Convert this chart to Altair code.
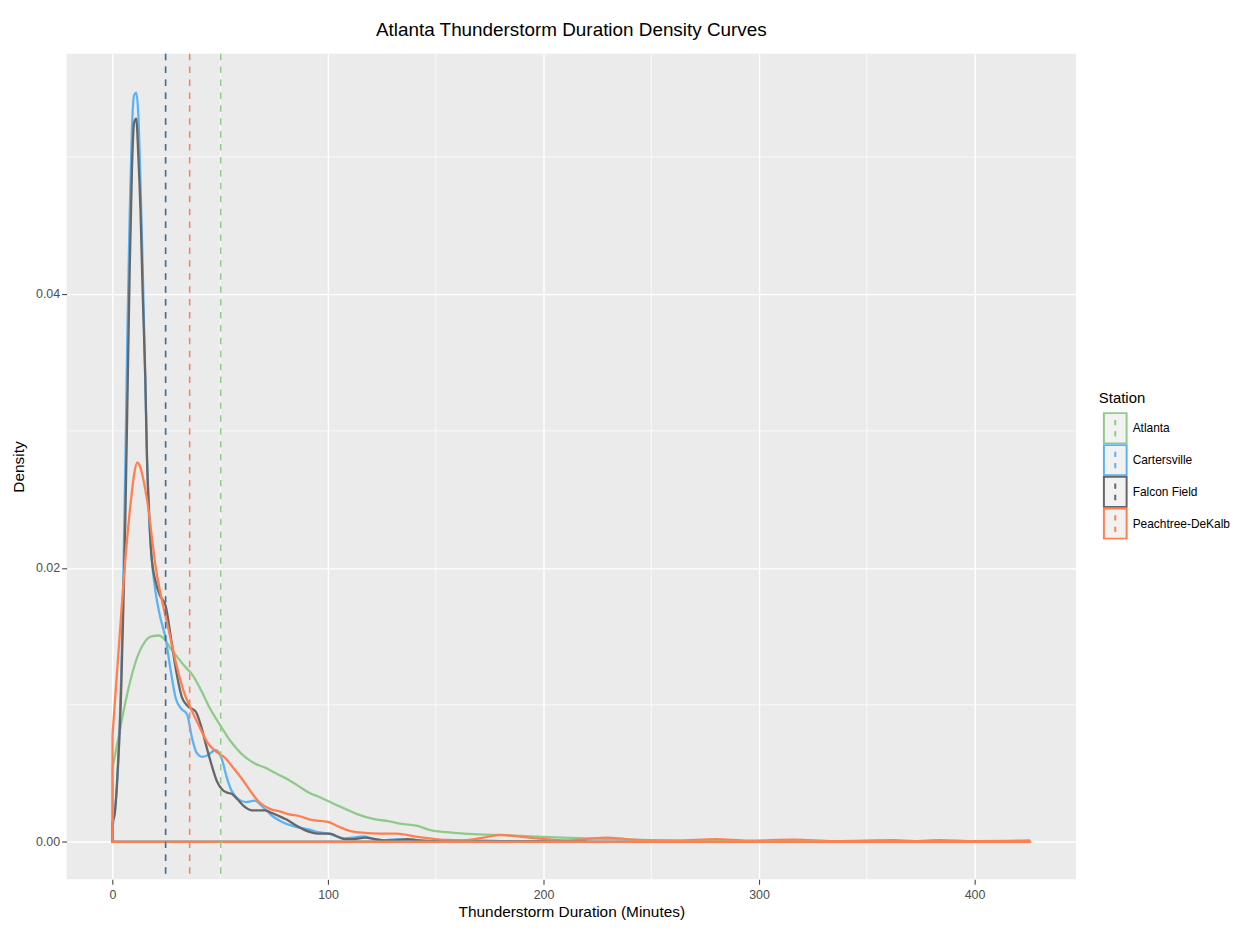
import altair as alt
import pandas as pd

FONT = "Liberation Sans, Arial"

stations = ["Atlanta", "Cartersville", "Falcon Field", "Peachtree-DeKalb"]
colors = ["#8FCB88", "#5BB3F5", "#666666", "#FF7F50"]
medians = [50.2, 24.7, 24.6, 35.8]

atl_x = [0, 3, 6, 9, 12, 15, 18, 21.5, 24, 27, 30, 33, 37, 41, 45, 50.8, 55, 60, 65, 71, 77, 82, 86, 91,
         95.4, 101, 108, 113.8, 121, 128, 134, 141, 147.5, 155, 163, 178, 194, 209, 232, 255, 280, 310, 330]
atl_y = [0.0054, 0.0078, 0.0102, 0.0122, 0.0137, 0.0146, 0.0150, 0.01506, 0.0148, 0.0141, 0.0135, 0.0129,
         0.0122, 0.0111, 0.0098, 0.0083, 0.0073, 0.0064, 0.0058, 0.0054, 0.0049, 0.0045, 0.0041, 0.0036,
         0.0033, 0.0029, 0.0024, 0.0020, 0.00167, 0.0015, 0.0013, 0.00118, 0.00085, 0.0007, 0.0006, 0.0005,
         0.0004, 0.0003, 0.0002, 0.0001, 0.00006, 0.00004, 0.00002]

car_x = [0, 2, 3, 4, 5, 6, 7, 8, 9, 10, 11, 12, 13, 14, 15, 16, 17, 18, 20, 22, 24.7, 27, 29.3, 32, 34.6,
         37, 39, 41.5, 44, 47.8, 50.8, 53, 55.3, 58.5, 62, 66, 70, 74, 78, 84.6, 91, 95.4, 100, 104,
         107.7, 111, 114, 117, 121, 126, 132, 140, 150, 165, 180, 200, 220, 240]
car_y = [0.001, 0.004, 0.007, 0.012, 0.019, 0.028, 0.038, 0.046, 0.052, 0.0545, 0.0547, 0.0530, 0.048,
         0.042, 0.035, 0.028, 0.0235, 0.021, 0.0182, 0.0165, 0.0148, 0.0125, 0.0105, 0.0097, 0.0093,
         0.0075, 0.0065, 0.0062, 0.0063, 0.0067, 0.0060, 0.0047, 0.0037, 0.0031, 0.0029, 0.0030, 0.0025,
         0.0019, 0.0015, 0.0011, 0.0009, 0.0007, 0.0006, 0.0004, 0.00025, 0.0003, 0.00036, 0.0004,
         0.0002, 0.0001, 0.0002, 0.0001, 0.00005, 0.0001, 0.00005, 0.00003, 0.00002, 0.00001]

fal_x = [0, 1, 2, 3, 4, 5, 6, 7, 8, 9, 10, 11, 12, 13, 14, 15.2, 16, 17, 18, 20, 22, 24.7, 27, 29.5, 32.3,
         35, 38.6, 41, 43.5, 46, 48.5, 51, 53, 55.3, 58, 61, 64.5, 67.5, 70.8, 74, 78.3, 81, 85, 89,
         95.4, 98, 101, 104, 107.8, 112, 117, 122, 126, 131, 137, 142, 150, 170, 200, 220]
fal_y = [0.0015, 0.002, 0.004, 0.007, 0.011, 0.017, 0.024, 0.033, 0.042, 0.049, 0.0525, 0.0528, 0.050,
         0.046, 0.040, 0.034, 0.028, 0.024, 0.021, 0.019, 0.018, 0.0172, 0.0150, 0.0125, 0.0105, 0.0099,
         0.0095, 0.0085, 0.0070, 0.0056, 0.0044, 0.0038, 0.0036, 0.0035, 0.0031, 0.0026, 0.0023, 0.0023,
         0.0023, 0.0021, 0.0018, 0.0016, 0.0012, 0.00087, 0.0006, 0.0006, 0.0006, 0.0004, 0.0002, 0.0002,
         0.0003, 0.0002, 0.0001, 0.0001, 0.0002, 0.0001, 0.00005, 0.00003, 0.00002, 0.00001]

pdk_x = [0, 3.2, 6.3, 8.6, 10, 11.5, 13, 14.5, 16, 20, 26.3, 30, 33, 37, 40, 44.7, 48, 52.4, 56, 60, 64,
         68, 73, 78, 82, 86, 92.3, 100, 105, 110, 117, 124, 132, 140, 147.5, 155, 163, 172, 180, 188,
         197, 209, 220, 229, 238, 247, 262, 280, 295, 316, 335, 362.7, 372, 384, 400, 415, 425.8]
pdk_y = [0.0078, 0.0148, 0.0213, 0.025, 0.0268, 0.0277, 0.0273, 0.0263, 0.0250, 0.0201, 0.0153, 0.0127,
         0.0110, 0.0095, 0.0085, 0.0071, 0.0066, 0.0061, 0.0054, 0.0046, 0.0037, 0.0029, 0.0024, 0.0022,
         0.0020, 0.0019, 0.0016, 0.00145, 0.0011, 0.0008, 0.00065, 0.0006, 0.0006, 0.0004, 0.00024, 0.00013,
         0.0001, 0.0003, 0.0005, 0.0004, 0.00024, 0.0001, 0.0002, 0.0003, 0.0002, 0.0001, 0.00008, 0.0002,
         0.00008, 0.00015, 0.00005, 0.00012, 0.00005, 0.00012, 0.00004, 0.00006, 0.0001]

xs = [atl_x, car_x, fal_x, pdk_x]
ys = [atl_y, car_y, fal_y, pdk_y]

x_minor = [50, 150, 250, 350]
y_minor = [0.01, 0.03, 0.05]

rows, base_rows = [], []
for s, xa, ya in zip(stations, xs, ys):
    for i, (a, b) in enumerate(zip(xa, ya)):
        rows.append({"Station": s, "x": a, "y": b, "o": i})
    pts = [(xa[0], ya[0]), (xa[0], 0.0), (xa[-1], 0.0), (xa[-1], ya[-1])]
    for i, (a, b) in enumerate(pts):
        base_rows.append({"Station": s, "x": a, "y": b, "o": i})
curves = pd.DataFrame(rows)
bases = pd.DataFrame(base_rows)
med = pd.DataFrame({"Station": stations, "m": medians})

xdom = [-21.3, 447.1]
ydom = [-0.00274, 0.05754]
xsc = alt.Scale(domain=xdom, nice=False, zero=False)
ysc = alt.Scale(domain=ydom, nice=False, zero=False)
csc = alt.Scale(domain=stations, range=colors)

xaxis = alt.Axis(values=[0, 100, 200, 300, 400], title="Thunderstorm Duration (Minutes)")
yaxis = alt.Axis(values=[0, 0.02, 0.04], format=".2f", title="Density")

legend = alt.Legend(
    title="Station",
    orient="none",
    legendX=1039,
    legendY=340,
    symbolType="M-0.75,-1H0.75V1H-0.75Z M0,-0.55V-0.2 M0,0.2V0.55",
    symbolSize=930,
    symbolFillColor="#F2F2F2",
    symbolStrokeWidth=2,
    symbolOpacity=1,
    clipHeight=32,
    rowPadding=0,
    labelOffset=1,
    titlePadding=6,
)

minor_x = alt.Chart(pd.DataFrame({"v": x_minor})).mark_rule(color="white", strokeWidth=0.7).encode(
    x=alt.X("v:Q", scale=xsc, axis=xaxis)
)
minor_y = alt.Chart(pd.DataFrame({"v": y_minor})).mark_rule(color="white", strokeWidth=0.7).encode(
    y=alt.Y("v:Q", scale=ysc, axis=yaxis)
)

lines = alt.Chart(curves).mark_line(interpolate="monotone", strokeWidth=2.3).encode(
    x=alt.X("x:Q", scale=xsc, axis=xaxis),
    y=alt.Y("y:Q", scale=ysc, axis=yaxis),
    stroke=alt.Stroke("Station:N", scale=csc, legend=legend),
    detail="Station:N",
    order="o:Q",
)
baselines = alt.Chart(bases).mark_line(interpolate="linear", strokeWidth=2.3).encode(
    x=alt.X("x:Q", scale=xsc, axis=xaxis),
    y=alt.Y("y:Q", scale=ysc, axis=yaxis),
    stroke=alt.Stroke("Station:N", scale=csc, legend=legend),
    detail="Station:N",
    order="o:Q",
)
vlines = alt.Chart(med).mark_rule(strokeDash=[6.5, 6.5], strokeWidth=1.5).encode(
    x=alt.X("m:Q", scale=xsc, axis=xaxis),
    stroke=alt.Stroke("Station:N", scale=csc, legend=legend),
)

chart = alt.layer(minor_x, minor_y, lines, baselines, vlines).properties(
    width=1016,
    height=831,
    autosize=alt.AutoSizeParams(type="none"),
    padding={"left": 59, "top": 43, "right": 156, "bottom": 42},
    title=alt.Title(
        "Atlanta Thunderstorm Duration Density Curves",
        font=FONT, fontSize=19, fontWeight="normal", color="black", anchor="middle", offset=13,
    ),
).configure_view(
    fill="#EBEBEB", stroke=None
).configure_axis(
    grid=True, gridColor="white", gridWidth=1.4, domain=False,
    tickColor="#333333", tickSize=5, tickWidth=1,
    labelFont=FONT, labelFontSize=12.5, labelColor="#4D4D4D",
    titleFont=FONT, titleFontSize=15.5, titleColor="black", titleFontWeight="normal",
).configure_axisX(
    labelPadding=4, titlePadding=4,
).configure_axisY(
    labelPadding=2, titlePadding=9,
).configure_legend(
    titleFont=FONT, titleFontSize=15, titleFontWeight="normal", titleColor="black",
    labelFont=FONT, labelFontSize=12, labelColor="black",
)

chart.save("out.html", embed_options={"renderer": "svg", "actions": False})
